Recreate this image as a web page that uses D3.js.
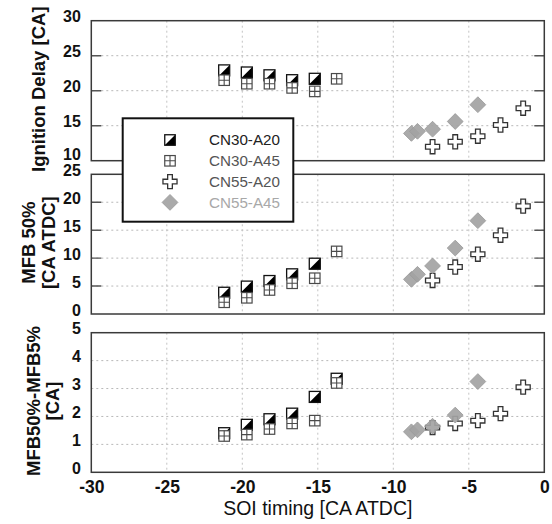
<!DOCTYPE html>
<html>
<head>
<meta charset="utf-8">
<script src="https://cdn.jsdelivr.net/npm/d3@7"></script>
<style>
  html, body { margin: 0; padding: 0; background: #fff; }
  svg { display: block; }
  text { font-family: "Liberation Sans", Arial, sans-serif; }
</style>
</head>
<body>
<script>
// ---- data ----------------------------------------------------------------
// Start-of-injection timing [CA ATDC] for each fuel / EGR group
const soiCN30 = [-21.2, -19.7, -18.2, -16.7, -15.2, -13.75];
const soiCN55A20 = [-7.4, -5.9, -4.4, -2.9, -1.4];
const soiCN55A45 = [-8.8, -8.4, -7.4, -5.9, -4.4];

// Ignition delay [CA]
const idCN30A20 = [22.9, 22.6, 22.2, 21.5, 21.7, null];
const idCN30A45 = [21.5, 21.0, 21.0, 20.4, 19.9, 21.7];
const idCN55A20 = [12.0, 12.7, 13.5, 15.1, 17.5];
const idCN55A45 = [13.9, 14.2, 14.5, 15.6, 18.0];

// MFB 50% [CA ATDC]
const mfb50CN30A20 = [3.8, 4.9, 5.9, 7.1, 9.0, null];
const mfb50CN30A45 = [2.1, 2.9, 4.3, 5.5, 6.4, 11.2];
const mfb50CN55A20 = [6.0, 8.4, 10.7, 14.1, 19.3];
const mfb50CN55A45 = [6.2, 7.1, 8.6, 11.8, 16.7];

// MFB50% - MFB5% [CA]
const burnCN30A20 = [1.4, 1.7, 1.9, 2.1, 2.7, 3.35];
const burnCN30A45 = [1.3, 1.35, 1.55, 1.75, 1.85, 3.2];
const burnCN55A20 = [1.6, 1.75, 1.85, 2.1, 3.05];
const burnCN55A45 = [1.45, 1.52, 1.65, 2.05, 3.25];

const seriesNames = ["CN30-A20", "CN30-A45", "CN55-A20", "CN55-A45"];
const xTicks = [-30, -25, -20, -15, -10, -5, 0];
const yTicksID = [10, 15, 20, 25, 30];
const yTicksMFB50 = [0, 5, 10, 15, 20, 25];
const yTicksBurn = [0, 1, 2, 3, 4, 5];
const xTitle = "SOI timing [CA ATDC]";

// ---- layout --------------------------------------------------------------
const W = 552, H = 524;
const left = 91.3, right = 544.3;

const panels = [
  { top: 20.7, bottom: 160.7, domain: [10, 30], ticks: yTicksID, edgeTicks: true,
    title: ["Ignition Delay [CA]"], titleX: [38],
    values: [idCN30A20, idCN30A45, idCN55A20, idCN55A45] },
  { top: 174.3, bottom: 314, domain: [0, 25], ticks: yTicksMFB50, edgeTicks: true,
    title: ["MFB 50%", "[CA ATDC]"], titleX: [28, 48],
    values: [mfb50CN30A20, mfb50CN30A45, mfb50CN55A20, mfb50CN55A45] },
  { top: 332.7, bottom: 472.3, domain: [0, 5], ticks: yTicksBurn, edgeTicks: false,
    title: ["MFB50%-MFB5%", "[CA]"], titleX: [33, 52],
    values: [burnCN30A20, burnCN30A45, burnCN55A20, burnCN55A45] }
];

const svg = d3.select("body").append("svg").attr("width", W).attr("height", H);
const x = d3.scaleLinear().domain([-30, 0]).range([left, right]);
const intFmt = d => String(d);

// ---- marker painters -------------------------------------------------------
const SQ = 11;
function halfSquare(g, cx, cy, s) {
  const h = s / 2;
  g.append("rect").attr("x", cx - h).attr("y", cy - h).attr("width", s).attr("height", s)
    .attr("fill", "#fff").attr("stroke", "none");
  g.append("path")
    .attr("d", `M${cx - h},${cy + h}L${cx + h},${cy - h}L${cx + h},${cy + h}Z`)
    .attr("fill", "#000");
  g.append("rect").attr("x", cx - h).attr("y", cy - h).attr("width", s).attr("height", s)
    .attr("fill", "none").attr("stroke", "#111").attr("stroke-width", 1.3);
}
function gridSquare(g, cx, cy, s) {
  const h = s / 2;
  g.append("rect").attr("x", cx - h).attr("y", cy - h).attr("width", s).attr("height", s)
    .attr("fill", "#fff").attr("stroke", "#4a4a4a").attr("stroke-width", 1.2);
  g.append("path")
    .attr("d", `M${cx - h},${cy}H${cx + h}M${cx},${cy - h}V${cy + h}`)
    .attr("stroke", "#4a4a4a").attr("stroke-width", 1.1);
}
const crossPath = d3.symbol().type(d3.symbolCross).size(110)();
const diamondPath = d3.symbol().type(d3.symbolSquare).size(125)();
function plusMark(g, cx, cy) {
  g.append("path").attr("d", crossPath)
    .attr("transform", `translate(${cx},${cy})`)
    .attr("fill", "#fff").attr("stroke", "#333").attr("stroke-width", 1.3);
}
function diamondMark(g, cx, cy) {
  g.append("path").attr("d", diamondPath)
    .attr("transform", `translate(${cx},${cy}) rotate(45)`)
    .attr("fill", "#a3a3a3").attr("fill-opacity", 0.92)
    .attr("stroke", "#9a9a9a").attr("stroke-width", 0.8);
}

// ---- panels ------------------------------------------------------------------
panels.forEach((p, pi) => {
  const y = d3.scaleLinear().domain(p.domain).range([p.bottom, p.top]);
  const g = svg.append("g");

  // dotted grid
  const inner = p.ticks.slice(1, -1);
  g.append("g").selectAll("line").data(inner).join("line")
    .attr("x1", left).attr("x2", right)
    .attr("y1", d => y(d)).attr("y2", d => y(d))
    .attr("stroke", "#b8b8b8").attr("stroke-width", 1).attr("stroke-dasharray", "2,3");
  g.append("g").selectAll("line").data(xTicks.slice(1, -1)).join("line")
    .attr("x1", d => x(d)).attr("x2", d => x(d))
    .attr("y1", p.top).attr("y2", p.bottom)
    .attr("stroke", "#c4c4c4").attr("stroke-width", 1).attr("stroke-dasharray", "2,3");

  // short inward ticks on both sides
  if (p.edgeTicks) {
    g.append("g").selectAll("path").data(inner).join("path")
      .attr("d", d => `M${left},${y(d)}h10M${right},${y(d)}h-10`)
      .attr("stroke", "#555").attr("stroke-width", 1.4);
  }

  // y axis labels via d3 axis; the lowest label sits a little higher
  const lowest = p.domain[0];
  const ax = g.append("g").attr("transform", `translate(${left},0)`)
    .call(d3.axisLeft(y).tickValues(p.ticks).tickSize(0).tickPadding(0).tickFormat(intFmt));
  ax.select(".domain").remove();
  ax.selectAll("text")
    .attr("x", -10.5).attr("dy", null).attr("y", d => d === lowest && pi === 0 ? -0.8 : 1.2)
    .attr("font-size", 16).attr("font-weight", "bold")
    .attr("font-family", "'Liberation Sans', Arial, sans-serif").attr("fill", "#111");

  // frame
  g.append("rect").attr("x", left).attr("y", p.top)
    .attr("width", right - left).attr("height", p.bottom - p.top)
    .attr("fill", "none").attr("stroke", "#3a3a3a").attr("stroke-width", 1.5);

  // y titles
  const cy = (p.top + p.bottom) / 2 - 1.5;
  p.title.forEach((t, i) => {
    g.append("text")
      .attr("transform", `translate(${p.titleX[i]},${cy}) rotate(-90)`)
      .attr("text-anchor", "middle").attr("dominant-baseline", "central")
      .attr("font-size", 18.5).attr("font-weight", "bold").attr("fill", "#111")
      .text(t);
  });

  // markers
  const m = g.append("g");
  const [a20, a45, c20, c45] = p.values;
  soiCN30.forEach((s, i) => { if (a20[i] != null) halfSquare(m, x(s), y(a20[i]), SQ); });
  soiCN30.forEach((s, i) => { if (a45[i] != null) gridSquare(m, x(s), y(a45[i]), SQ - 0.5); });
  soiCN55A20.forEach((s, i) => plusMark(m, x(s), y(c20[i])));
  soiCN55A45.forEach((s, i) => diamondMark(m, x(s), y(c45[i])));

  // x axis labels only under the last panel
  if (pi === panels.length - 1) {
    const xa = svg.append("g").attr("transform", `translate(0,${p.bottom})`)
      .call(d3.axisBottom(x).tickValues(xTicks).tickSize(0).tickPadding(0).tickFormat(intFmt));
    xa.select(".domain").remove();
    xa.selectAll("text").attr("dy", null).attr("y", 20.8)
      .attr("font-size", 17.5).attr("font-weight", "bold")
      .attr("font-family", "'Liberation Sans', Arial, sans-serif").attr("fill", "#111");
    svg.append("text").attr("x", (left + right) / 2).attr("y", 514.5)
      .attr("text-anchor", "middle").attr("font-size", 19.5).attr("fill", "#111")
      .text(xTitle);
  }
});

// ---- legend ------------------------------------------------------------------
const lg = svg.append("g");
lg.append("rect").attr("x", 122.7).attr("y", 118.3).attr("width", 170.6).attr("height", 103.4)
  .attr("fill", "#fff").attr("stroke", "#111").attr("stroke-width", 2);
const legendColors = ["#222", "#555", "#555", "#a8a8a8"];
const rowY = d3.scalePoint().domain(seriesNames).range([140, 202.4]);
seriesNames.forEach((name, i) => {
  const cy = rowY(name);
  if (i === 0) halfSquare(lg, 170, cy, 10.5);
  if (i === 1) gridSquare(lg, 170, cy, 10.5);
  if (i === 2) plusMark(lg, 170, cy);
  if (i === 3) diamondMark(lg, 170, cy);
  lg.append("text").attr("x", 209).attr("y", cy + 5.3)
    .attr("font-size", 15.2).attr("fill", legendColors[i]).text(name);
});
</script>
</body>
</html>
